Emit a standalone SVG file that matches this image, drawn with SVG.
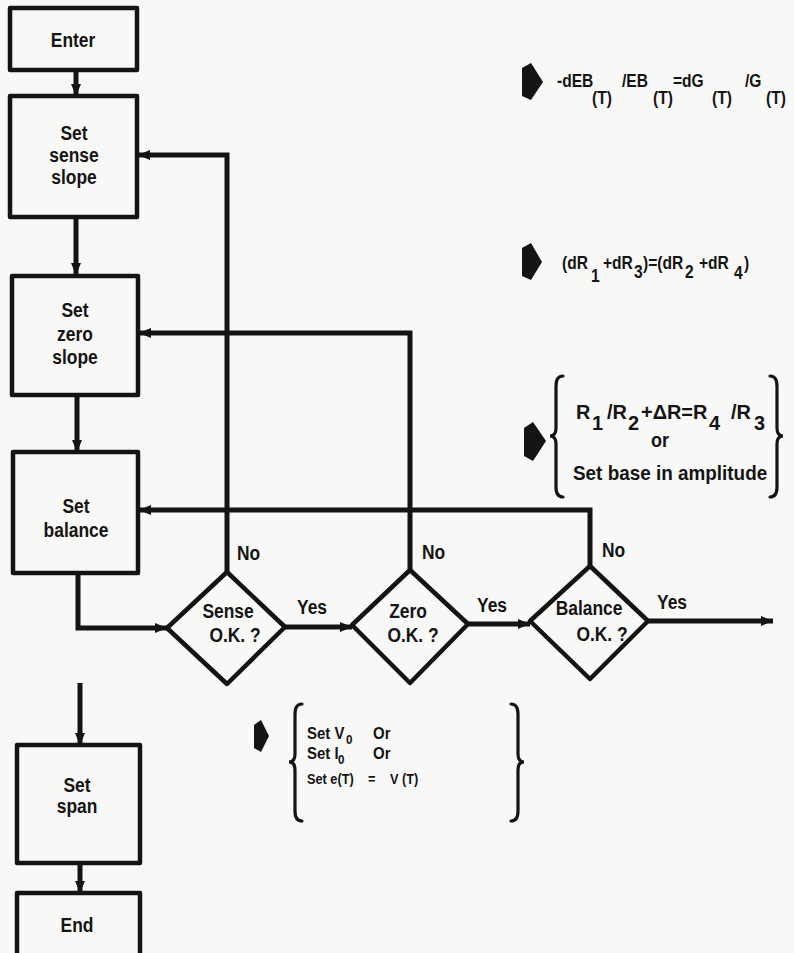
<svg xmlns="http://www.w3.org/2000/svg" width="794" height="953" viewBox="0 0 794 953">
<style>
.box{fill:none;stroke:#141414;stroke-width:4.5;stroke-linejoin:round}
.ln{fill:none;stroke:#141414;stroke-width:5;stroke-linejoin:miter}
.br{fill:none;stroke:#141414;stroke-width:3.2;stroke-linecap:round}
.fa{fill:#141414}
text{font-family:"Liberation Sans",Arial,sans-serif;font-weight:bold;fill:#141414}
.t{font-size:20px;text-anchor:middle}
.s{font-size:20px;text-anchor:start}
.e{font-size:19px;text-anchor:start}
.e4{font-size:17px;text-anchor:start}
.e3{font-size:21px;text-anchor:start}
.m{font-size:15px;text-anchor:start}
.sub{font-size:13px;text-anchor:start}
</style>
<defs>
<marker id="ah" viewBox="0 0 12 10" refX="12" refY="5" markerWidth="12" markerHeight="10" markerUnits="userSpaceOnUse" orient="auto">
<path d="M0,0 L12,5 L0,10 z" fill="#141414"/>
</marker>
</defs>
<rect x="0" y="0" width="794" height="953" fill="#f8f8f6"/>

<g id="connectors">
<path class="ln" d="M76,72 V96" marker-end="url(#ah)"/>
<path class="ln" d="M76,219 V275" marker-end="url(#ah)"/>
<path class="ln" d="M77,397 V452" marker-end="url(#ah)"/>
<path class="ln" d="M78,575 V628 H167" marker-end="url(#ah)"/>
<path class="ln" d="M285,627 H352" marker-end="url(#ah)"/>
<path class="ln" d="M468,624 H530" marker-end="url(#ah)"/>
<path class="ln" d="M648,621 H773" marker-end="url(#ah)"/>
<path class="ln" d="M227,572 V155 H138" marker-end="url(#ah)"/>
<path class="ln" d="M410,570 V333 H139" marker-end="url(#ah)"/>
<path class="ln" d="M590,566 V510 H139" marker-end="url(#ah)"/>
<path class="ln" d="M80,683 V745" marker-end="url(#ah)"/>
<path class="ln" d="M80,865 V893" marker-end="url(#ah)"/>
<text class="s" transform="translate(237 560) scale(0.87 1)">No</text>
<text class="s" transform="translate(422 559) scale(0.87 1)">No</text>
<text class="s" transform="translate(602 557) scale(0.87 1)">No</text>
<text class="t" transform="translate(312 614) scale(0.87 1)">Yes</text>
<text class="t" transform="translate(492 612) scale(0.87 1)">Yes</text>
<text class="t" transform="translate(672 609) scale(0.87 1)">Yes</text>
</g>

<g id="enter">
<rect class="box" x="10" y="8" width="127" height="62"/>
<text class="t" transform="translate(73 47) scale(0.87 1)">Enter</text>
</g>
<g id="sense-slope">
<rect class="box" x="10" y="96" width="127" height="121"/>
<text class="t" transform="translate(74 140) scale(0.87 1)">Set</text>
<text class="t" transform="translate(74 162) scale(0.87 1)">sense</text>
<text class="t" transform="translate(74 184) scale(0.87 1)">slope</text>
</g>
<g id="zero-slope">
<rect class="box" x="12" y="276" width="126" height="119"/>
<text class="t" transform="translate(75 317) scale(0.87 1)">Set</text>
<text class="t" transform="translate(75 341) scale(0.87 1)">zero</text>
<text class="t" transform="translate(75 364) scale(0.87 1)">slope</text>
</g>
<g id="balance">
<rect class="box" x="13" y="452" width="125" height="121"/>
<text class="t" transform="translate(76 513) scale(0.87 1)">Set</text>
<text class="t" transform="translate(76 537) scale(0.87 1)">balance</text>
</g>
<g id="sense-ok">
<polygon class="box" points="227,572 285,627 227,684 167,628"/>
<text class="t" transform="translate(228 618) scale(0.87 1)">Sense</text>
<text class="t" transform="translate(235 642) scale(0.87 1)">O.K. ?</text>
</g>
<g id="zero-ok">
<polygon class="box" points="410,570 468,624 410,683 352,625"/>
<text class="t" transform="translate(408 618) scale(0.87 1)">Zero</text>
<text class="t" transform="translate(413 642) scale(0.87 1)">O.K. ?</text>
</g>
<g id="balance-ok">
<polygon class="box" points="590,566 648,621 590,679 530,621"/>
<text class="t" transform="translate(589 615) scale(0.87 1)">Balance</text>
<text class="t" transform="translate(602 641) scale(0.87 1)">O.K. ?</text>
</g>
<g id="span">
<rect class="box" x="17" y="745" width="123" height="118"/>
<text class="t" transform="translate(77 792) scale(0.87 1)">Set</text>
<text class="t" transform="translate(77 813) scale(0.87 1)">span</text>
</g>
<g id="end">
<rect class="box" x="17" y="893" width="123" height="70"/>
<text class="t" transform="translate(77 932) scale(0.87 1)">End</text>
</g>

<g id="eq1">
<polygon class="fa" points="522,68 531,63 543,82 531,100 522,96"/>
<text class="e" transform="translate(557 87) scale(0.82 1)">-dEB</text>
<text class="e" transform="translate(592 104) scale(0.82 1)">(T)</text>
<text class="e" transform="translate(622 87) scale(0.82 1)">/EB</text>
<text class="e" transform="translate(653 104) scale(0.82 1)">(T)</text>
<text class="e" transform="translate(673 87) scale(0.82 1)">=dG</text>
<text class="e" transform="translate(712 104) scale(0.82 1)">(T)</text>
<text class="e" transform="translate(745 87) scale(0.82 1)">/G</text>
<text class="e" transform="translate(766 104) scale(0.82 1)">(T)</text>
</g>
<g id="eq2">
<polygon class="fa" points="522,248 531,243 542,262 531,280 522,276"/>
<text class="e" transform="translate(562 269) scale(0.82 1)">(dR</text>
<text class="e" transform="translate(591 282) scale(0.82 1)">1</text>
<text class="e" transform="translate(603 269) scale(0.82 1)">+dR</text>
<text class="e" transform="translate(634 278) scale(0.82 1)">3</text>
<text class="e" transform="translate(643 269) scale(0.82 1)">)=(dR</text>
<text class="e" transform="translate(685 278) scale(0.82 1)">2</text>
<text class="e" transform="translate(699 269) scale(0.82 1)">+dR</text>
<text class="e" transform="translate(734 279) scale(0.82 1)">4</text>
<text class="e" transform="translate(744 269) scale(0.82 1)">)</text>
</g>
<g id="eq3">
<polygon class="fa" points="524,428 533,422 546,441 533,461 524,456"/>
<path class="br" d="M563,376 Q556,376 556,386 V428 Q556,436 550,436 Q556,436 556,444 V487 Q556,497 563,497"/>
<path class="br" d="M770,376 Q777,376 777,386 V428 Q777,436 783,436 Q777,436 777,444 V487 Q777,497 770,497"/>
<text class="e3" transform="translate(576 419) scale(0.95 1)">R</text>
<text class="e3" transform="translate(592 430) scale(0.95 1)">1</text>
<text class="e3" transform="translate(607 419) scale(0.95 1)">/R</text>
<text class="e3" transform="translate(628 430) scale(0.95 1)">2</text>
<text class="e3" transform="translate(641 419) scale(0.95 1)">+ΔR=R</text>
<text class="e3" transform="translate(709 430) scale(0.95 1)">4</text>
<text class="e3" transform="translate(731 419) scale(0.95 1)">/R</text>
<text class="e3" transform="translate(754 430) scale(0.95 1)">3</text>
<text class="t" transform="translate(660 447) scale(0.9 1)">or</text>
<text class="e3" transform="translate(573 480) scale(0.9 1)">Set base in amplitude</text>
</g>
<g id="eq4">
<polygon class="fa" points="254,725 261,720 269,736 261,752 254,748"/>
<path class="br" d="M302,704 Q295,704 295,714 V754 Q295,762 289,762 Q295,762 295,770 V811 Q295,821 302,821"/>
<path class="br" d="M511,704 Q518,704 518,714 V754 Q518,762 524,762 Q518,762 518,770 V811 Q518,821 511,821"/>
<text class="e4" transform="translate(307 739) scale(0.88 1)">Set V</text>
<text class="sub" transform="translate(346 744) scale(0.9 1)">0</text>
<text class="e4" transform="translate(373 739) scale(0.88 1)">Or</text>
<text class="e4" transform="translate(307 759) scale(0.88 1)">Set I</text>
<text class="sub" transform="translate(338 764) scale(0.9 1)">0</text>
<text class="e4" transform="translate(373 759) scale(0.88 1)">Or</text>
<text class="m" transform="translate(307 784) scale(0.85 1)">Set e(T)</text>
<text class="m" transform="translate(368 784) scale(0.85 1)">=</text>
<text class="m" transform="translate(390 784) scale(0.85 1)">V (T)</text>
</g>
</svg>
